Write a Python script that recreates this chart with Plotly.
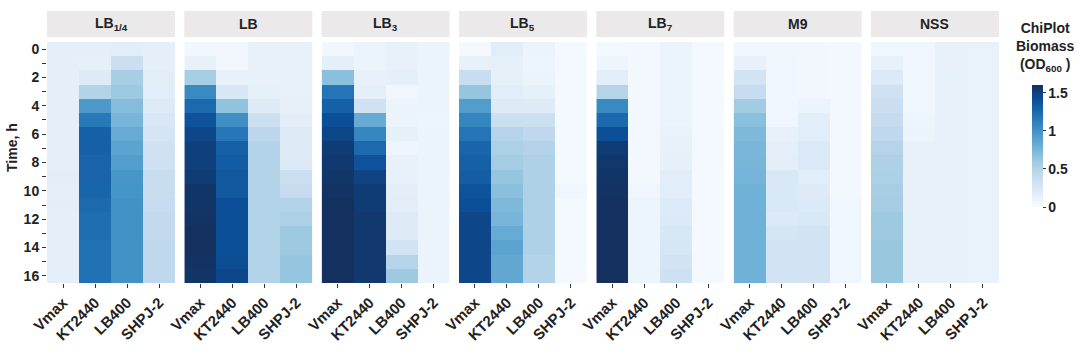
import plotly.graph_objects as go

# ---------------- data ----------------
times = list(range(17))
strains = ["Vmax", "KT2440", "LB400", "SHPJ-2"]
media = ["LB<sub>1/4</sub>", "LB", "LB<sub>3</sub>", "LB<sub>5</sub>", "LB<sub>7</sub>", "M9", "NSS"]
cbar_ticks = [0, 0.5, 1, 1.5]
cbar_text = ["0", "0.5", "1", "1.5"]

# LB 1/4
lb14_vmax = [0.15, 0.15, 0.15, 0.15, 0.15, 0.15, 0.15, 0.15, 0.15, 0.16, 0.15, 0.16, 0.15, 0.15, 0.15, 0.15, 0.15]
lb14_kt = [0.15, 0.14, 0.20, 0.50, 0.95, 1.15, 1.30, 1.30, 1.28, 1.28, 1.27, 1.25, 1.22, 1.22, 1.20, 1.20, 1.20]
lb14_lb400 = [0.18, 0.35, 0.55, 0.60, 0.70, 0.75, 0.82, 0.88, 0.92, 0.97, 0.98, 1.00, 1.00, 1.00, 1.00, 1.00, 1.00]
lb14_shpj = [0.15, 0.15, 0.17, 0.18, 0.20, 0.25, 0.27, 0.32, 0.33, 0.38, 0.38, 0.40, 0.42, 0.42, 0.43, 0.43, 0.43]
# LB
lb_vmax = [0.05, 0.12, 0.55, 1.05, 1.25, 1.38, 1.45, 1.50, 1.50, 1.52, 1.57, 1.57, 1.58, 1.60, 1.60, 1.58, 1.57]
lb_kt = [0.05, 0.05, 0.12, 0.25, 0.65, 1.02, 1.17, 1.30, 1.33, 1.35, 1.35, 1.40, 1.40, 1.40, 1.40, 1.42, 1.45]
lb_lb400 = [0.12, 0.12, 0.12, 0.14, 0.20, 0.35, 0.45, 0.50, 0.50, 0.50, 0.50, 0.50, 0.50, 0.50, 0.50, 0.50, 0.50]
lb_shpj = [0.12, 0.12, 0.12, 0.12, 0.14, 0.16, 0.20, 0.20, 0.22, 0.35, 0.40, 0.50, 0.52, 0.60, 0.60, 0.63, 0.63]
# LB 3
lb3_vmax = [0.05, 0.15, 0.68, 1.18, 1.30, 1.40, 1.46, 1.52, 1.54, 1.56, 1.58, 1.60, 1.60, 1.60, 1.60, 1.60, 1.60]
lb3_kt = [0.10, 0.10, 0.12, 0.15, 0.32, 0.82, 1.07, 1.25, 1.38, 1.47, 1.52, 1.52, 1.54, 1.54, 1.54, 1.54, 1.54]
lb3_lb400 = [0.13, 0.12, 0.15, 0.06, 0.10, 0.10, 0.14, 0.07, 0.12, 0.13, 0.16, 0.17, 0.20, 0.20, 0.30, 0.48, 0.60]
lb3_shpj = [0.10, 0.10, 0.10, 0.10, 0.10, 0.08, 0.10, 0.10, 0.10, 0.10, 0.10, 0.10, 0.10, 0.10, 0.10, 0.10, 0.10]
# LB 5
lb5_vmax = [0.02, 0.13, 0.38, 0.63, 0.92, 1.08, 1.18, 1.27, 1.30, 1.32, 1.38, 1.40, 1.45, 1.45, 1.45, 1.45, 1.45]
lb5_kt = [0.18, 0.14, 0.14, 0.18, 0.20, 0.35, 0.48, 0.53, 0.57, 0.63, 0.68, 0.72, 0.75, 0.82, 0.88, 0.85, 0.85]
lb5_lb400 = [0.10, 0.08, 0.10, 0.14, 0.20, 0.35, 0.43, 0.49, 0.52, 0.52, 0.52, 0.52, 0.52, 0.52, 0.52, 0.50, 0.50]
lb5_shpj = [0.03, 0.03, 0.03, 0.03, 0.03, 0.03, 0.03, 0.03, 0.03, 0.03, 0.06, 0.03, 0.03, 0.03, 0.03, 0.03, 0.03]
# LB 7
lb7_vmax = [0.03, 0.07, 0.18, 0.48, 1.05, 1.25, 1.40, 1.52, 1.55, 1.57, 1.58, 1.59, 1.60, 1.60, 1.60, 1.60, 1.60]
lb7_kt = [0.04, 0.04, 0.04, 0.04, 0.04, 0.04, 0.04, 0.04, 0.04, 0.04, 0.06, 0.08, 0.08, 0.08, 0.08, 0.08, 0.08]
lb7_lb400 = [0.10, 0.10, 0.10, 0.10, 0.10, 0.10, 0.11, 0.12, 0.14, 0.17, 0.18, 0.21, 0.22, 0.25, 0.26, 0.30, 0.33]
lb7_shpj = [0.03, 0.03, 0.03, 0.03, 0.03, 0.03, 0.03, 0.03, 0.03, 0.03, 0.03, 0.03, 0.03, 0.03, 0.03, 0.03, 0.03]
# M9
m9_vmax = [0.05, 0.12, 0.30, 0.40, 0.58, 0.68, 0.72, 0.74, 0.75, 0.76, 0.78, 0.78, 0.78, 0.78, 0.78, 0.78, 0.78]
m9_kt = [0.05, 0.06, 0.06, 0.06, 0.06, 0.06, 0.12, 0.15, 0.16, 0.24, 0.24, 0.24, 0.22, 0.28, 0.30, 0.30, 0.30]
m9_lb400 = [0.05, 0.05, 0.05, 0.05, 0.10, 0.18, 0.18, 0.23, 0.23, 0.18, 0.20, 0.22, 0.24, 0.30, 0.30, 0.30, 0.30]
m9_shpj = [0.04, 0.04, 0.04, 0.04, 0.04, 0.04, 0.04, 0.04, 0.04, 0.04, 0.04, 0.06, 0.06, 0.06, 0.06, 0.06, 0.06]
# NSS
nss_vmax = [0.06, 0.13, 0.22, 0.32, 0.36, 0.40, 0.43, 0.48, 0.52, 0.53, 0.55, 0.56, 0.60, 0.60, 0.62, 0.62, 0.62]
nss_kt = [0.06, 0.06, 0.06, 0.06, 0.06, 0.08, 0.10, 0.12, 0.12, 0.12, 0.12, 0.12, 0.12, 0.12, 0.12, 0.12, 0.12]
nss_lb400 = [0.12, 0.12, 0.13, 0.12, 0.12, 0.12, 0.12, 0.12, 0.12, 0.12, 0.12, 0.12, 0.12, 0.12, 0.12, 0.12, 0.12]
nss_shpj = [0.11, 0.11, 0.11, 0.11, 0.11, 0.11, 0.11, 0.11, 0.11, 0.11, 0.11, 0.11, 0.11, 0.11, 0.11, 0.11, 0.11]

panels = [
    (lb14_vmax, lb14_kt, lb14_lb400, lb14_shpj),
    (lb_vmax, lb_kt, lb_lb400, lb_shpj),
    (lb3_vmax, lb3_kt, lb3_lb400, lb3_shpj),
    (lb5_vmax, lb5_kt, lb5_lb400, lb5_shpj),
    (lb7_vmax, lb7_kt, lb7_lb400, lb7_shpj),
    (m9_vmax, m9_kt, m9_lb400, m9_shpj),
    (nss_vmax, nss_kt, nss_lb400, nss_shpj),
]

# ---------------- layout ----------------
W, H = 1080, 354
FONT = "Liberation Sans, Arial, sans-serif"
TXT = "#222222"
blues = [[0.0, "#f7fbff"], [0.125, "#deebf7"], [0.25, "#c6dbef"], [0.375, "#9ecae1"],
         [0.5, "#6baed6"], [0.625, "#4292c6"], [0.75, "#2171b5"], [0.875, "#0b4f98"],
         [1.0, "#13305e"]]

fig = go.Figure()
y_dom = [(H - 283) / H, (H - 42) / H]
shapes, annotations = [], []
for i, cols in enumerate(panels):
    left = 47 + 137.33 * i
    right = left + 128
    z = [list(r) for r in zip(*cols)]
    ax = "" if i == 0 else str(i + 1)
    fig.add_trace(go.Heatmap(
        x=strains, y=times, z=z, coloraxis="coloraxis",
        xaxis="x" + ax, yaxis="y" + ax, xgap=0, ygap=0,
    ))
    yextra = {}
    if i == 0:
        yextra = dict(ticks="outside", minor=dict(dtick=1, tick0=0, ticks="outside", ticklen=4,
                                                   tickwidth=1, tickcolor="#333333", showgrid=False))
    else:
        yextra = dict(ticks="")
    fig.update_layout(**{
        "xaxis" + ax: dict(
            domain=[left / W, right / W], anchor="y" + ax, type="category",
            range=[-0.5, 3.5], tickvals=strains, ticktext=strains,
            tickangle=-45, ticks="outside", ticklen=4, tickwidth=1, tickcolor="#333333",
            tickfont=dict(family=FONT, size=15, color=TXT, weight="bold"),
            showgrid=False, zeroline=False, showline=False, automargin=False,
        ),
        "yaxis" + ax: dict(
            domain=y_dom, anchor="x" + ax, range=[16.5, -0.5],
            tickmode="linear", tick0=0, dtick=2,
            ticklen=4, tickwidth=1, tickcolor="#333333",
            showticklabels=(i == 0), showgrid=False, zeroline=False, showline=False,
            tickfont=dict(family=FONT, size=14, color=TXT, weight="bold"), automargin=False,
            **yextra,
        ),
    })
    shapes.append(dict(type="rect", xref="paper", yref="paper",
                       x0=left / W, x1=right / W, y0=(H - 37) / H, y1=(H - 11) / H,
                       fillcolor="#ebe9ea", line=dict(width=0), layer="below"))
    annotations.append(dict(xref="paper", yref="paper", x=(left + right) / 2 / W,
                            y=(H - 24) / H, text="<b>%s</b>" % media[i], showarrow=False,
                            xanchor="center", yanchor="middle",
                            font=dict(family=FONT, size=14, color=TXT)))

annotations.append(dict(xref="paper", yref="paper", x=12 / W, y=(H - 148) / H,
                        text="<b>Time, h</b>", textangle=-90, showarrow=False,
                        xanchor="center", yanchor="middle",
                        font=dict(family=FONT, size=14, color=TXT)))
annotations.append(dict(xref="paper", yref="paper", x=1045 / W, y=(H - 47) / H,
                        text="<b>ChiPlot<br>Biomass<br>(OD<sub>600</sub> )</b>", showarrow=False,
                        xanchor="center", yanchor="middle", align="center",
                        font=dict(family=FONT, size=14, color=TXT)))

fig.update_layout(
    width=W, height=H, template="none",
    margin=dict(l=0, r=0, t=0, b=0),
    paper_bgcolor="white", plot_bgcolor="white",
    font=dict(family=FONT, color=TXT),
    shapes=shapes, annotations=annotations, showlegend=False,
    coloraxis=dict(
        colorscale=blues, cmin=0, cmax=1.6,
        colorbar=dict(
            x=1032 / W, xanchor="left", y=(H - 146) / H, yanchor="middle",
            len=122 / H, lenmode="fraction", thickness=11, outlinewidth=0,
            tickvals=cbar_ticks, ticktext=cbar_text,
            ticks="outside", ticklen=3, tickcolor="#333333",
            tickfont=dict(family=FONT, size=14, color=TXT, weight="bold"), xpad=0, ypad=0,
        ),
    ),
)

fig.write_html("out.html")
